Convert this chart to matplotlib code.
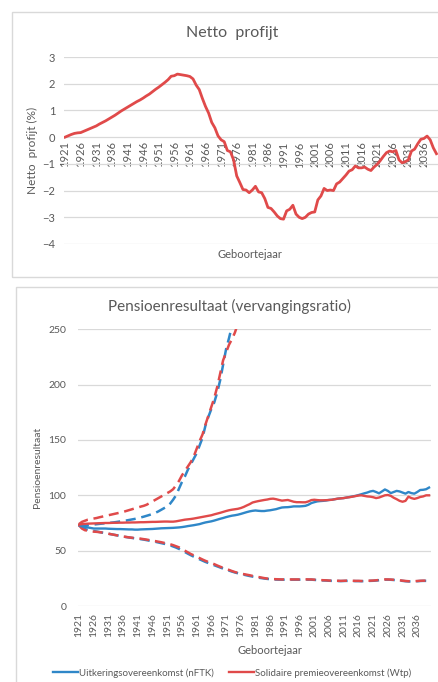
import numpy as np
import matplotlib.pyplot as plt
from matplotlib.patches import Rectangle

plt.rcParams['font.family'] = ['Lato', 'DejaVu Sans']

W, H = 438, 682
RED = '#e04a4a'
BLUE = '#2f87c8'
GRID = '#d9d9d9'
TXT = '#595959'

years = list(range(1921, 2041))
tick_years = list(range(1921, 2037, 5))

# netto profijt (%) per geboortejaar
netto_profijt = [
    0.00, 0.05, 0.10, 0.14, 0.16, 0.17, 0.22, 0.27, 0.32, 0.37,
    0.42, 0.49, 0.55, 0.61, 0.68, 0.75, 0.82, 0.90, 0.98, 1.05,
    1.12, 1.19, 1.26, 1.33, 1.39, 1.46, 1.54, 1.61, 1.70, 1.79,
    1.87, 1.96, 2.05, 2.15, 2.28, 2.30, 2.36, 2.34, 2.32, 2.30,
    2.27, 2.18, 1.95, 1.78, 1.45, 1.15, 0.90, 0.55, 0.35, 0.05,
    -0.10, -0.17, -0.50, -0.55, -0.85, -1.45, -1.70, -1.96, -1.98, -2.08,
    -1.98, -1.84, -2.05, -2.08, -2.30, -2.63, -2.67, -2.80, -2.95, -3.05,
    -3.07, -2.76, -2.70, -2.55, -2.88, -3.00, -3.05, -3.00, -2.88, -2.82,
    -2.80, -2.35, -2.20, -1.92, -2.00, -1.98, -2.00, -1.75, -1.68, -1.55,
    -1.42, -1.27, -1.22, -1.08, -1.15, -1.15, -1.12, -1.20, -1.25, -1.12,
    -1.02, -0.88, -0.72, -0.58, -0.52, -0.55, -0.50, -0.85, -0.96, -0.92,
    -0.85, -0.52, -0.45, -0.25, -0.08, -0.05, 0.04, -0.10, -0.40, -0.62,
]

# pensioenresultaat, mediaan (doorgetrokken)
nftk_mid = [
    73, 72, 71.5, 71, 70.5, 70, 70, 70, 70, 70,
    69.8, 69.7, 69.6, 69.5, 69.5, 69.4, 69.3, 69.2, 69.2, 69,
    69, 69.2, 69.3, 69.4, 69.5, 69.6, 69.8, 70, 70.2, 70.3,
    70.4, 70.5, 70.6, 70.8, 71, 71.3, 71.7, 72.2, 72.6, 73,
    73.5, 74, 74.8, 75.5, 76, 76.5, 77.2, 78, 78.8, 79.5,
    80.3, 81, 81.6, 82, 82.5, 83.2, 84, 84.8, 85.5, 86,
    86.3, 86, 85.8, 85.8, 86.2, 86.5, 87, 87.5, 88.3, 89,
    89.2, 89.3, 89.6, 90, 90, 90, 90.2, 90.5, 91.5, 93,
    93.8, 94.5, 94.8, 95, 95.3, 95.8, 96, 96.5, 97, 97.3,
    97.5, 98, 98.5, 99, 99.5, 100.2, 101, 101.8, 102.5, 103.5,
    104, 103, 101.8, 103.5, 105.3, 104, 102, 103, 104, 103.5,
    102.5, 101.5, 103, 102, 101.5, 103, 104.8, 105, 105.5, 107,
]
wtp_mid = [
    73.5, 74, 74.2, 74.4, 74.5, 74.6, 74.7, 74.8, 74.9, 75,
    75, 75.1, 75.2, 75.2, 75.3, 75.3, 75.4, 75.4, 75.5, 75.5,
    75.6, 75.7, 75.7, 75.8, 75.9, 76, 76, 76.1, 76.2, 76.3,
    76.3, 76.2, 76.2, 76.5, 77, 77.5, 78, 78.3, 78.6, 79,
    79.5, 80, 80.5, 81, 81.5, 82, 82.8, 83.5, 84.2, 85,
    85.8, 86.5, 87, 87.4, 87.8, 88.5, 89.5, 90.8, 92, 93.5,
    94.2, 94.8, 95.3, 95.8, 96.2, 96.8, 97, 96.5, 95.8, 95.2,
    95.5, 95.8, 95, 94.2, 93.8, 93.8, 93.7, 93.7, 94.5, 95.7,
    96, 95.7, 95.5, 95.5, 95.6, 95.8, 96, 96.5, 97, 97.2,
    97.5, 98, 98.3, 98.8, 99.3, 99.8, 100, 99.5, 99, 98.8,
    98.3, 97.5, 98, 99, 100, 100.3, 99.5, 97.8, 96.5, 95,
    94.2, 95, 98.8, 97.5, 96.8, 97.5, 98.5, 99, 100, 100,
]

# bovengrens (gestippeld), loopt vanaf ~1974 buiten beeld
nftk_high = [
    73, 72.5, 72.5, 73, 73.3, 73.6, 73.9, 74.2, 74.5, 74.8,
    75, 75.3, 75.6, 76, 76.4, 76.8, 77.2, 77.7, 78.2, 78.7,
    79.3, 80, 80.7, 81.5, 82.3, 83.2, 84.2, 85.5, 87, 88.5,
    90, 92.5, 96, 100, 106, 112, 117, 123, 128, 133,
    138, 145, 152, 163, 171, 178, 184, 193, 204, 218,
    232, 242, 253, 265,
]
wtp_high = [
    74, 76, 77, 78, 78.5, 79, 79.5, 80.2, 80.8, 81.5,
    82, 82.6, 83.2, 83.8, 84.4, 85, 85.8, 86.6, 87.4, 88.2,
    89, 89.8, 90.5, 91.5, 93, 94.5, 96, 97.5, 99, 100.5,
    102, 103.5, 105.5, 109, 113, 118, 122, 126, 130, 135,
    142, 149, 155, 164, 172, 180, 188, 198, 210, 222,
    229, 236, 241, 247, 255, 265,
]

# ondergrens (gestippeld)
nftk_low = [
    73, 71, 69.5, 68.8, 68.2, 67.7, 67.3, 66.8, 66.3, 65.8,
    65.3, 64.8, 64.3, 63.8, 63.3, 62.8, 62.3, 61.9, 61.5, 61.1,
    60.8, 60.4, 60, 59.5, 59, 58.5, 58, 57.4, 56.8, 56.2,
    55.6, 54.8, 53.8, 52.8, 51.6, 50.2, 48.8, 47.3, 45.9, 44.6,
    43.4, 42.2, 41, 39.8, 38.8, 37.8, 36.8, 35.8, 34.8, 33.8,
    32.9, 32, 31.1, 30.3, 29.6, 28.9, 28.3, 27.7, 27.1, 26.6,
    26.1, 25.6, 25.2, 24.8, 24.5, 24.2, 24, 23.9, 23.8, 23.8,
    23.8, 23.8, 23.8, 23.8, 23.8, 23.8, 23.9, 23.9, 23.8, 23.8,
    23.6, 23.4, 23.2, 23.1, 23, 22.8, 22.7, 22.6, 22.6, 22.5,
    22.6, 22.7, 22.7, 22.6, 22.5, 22.5, 22.4, 22.5, 22.6, 22.7,
    22.8, 23, 23.3, 23.6, 23.8, 23.8, 23.7, 23.5, 23.3, 23,
    22.7, 22.4, 22.2, 22.1, 22.2, 22.4, 22.6, 22.7, 22.7, 22.6,
]
wtp_low = [
    73, 70, 68.5, 68, 67.5, 67.2, 67, 66.7, 66.3, 65.8,
    65.3, 64.8, 64.3, 63.8, 63.3, 62.8, 62.4, 62, 61.7, 61.4,
    61.1, 60.8, 60.4, 60, 59.5, 59, 58.6, 58.1, 57.6, 57,
    56.5, 55.8, 55, 54, 53, 51.5, 50, 48.5, 47, 45.8,
    44.6, 43.3, 42, 40.8, 39.8, 38.8, 37.8, 36.6, 35.5, 34.5,
    33.5, 32.6, 31.6, 30.7, 30, 29.3, 28.8, 28.3, 27.8, 27.2,
    26.7, 26.2, 25.7, 25.2, 24.8, 24.5, 24.3, 24.2, 24.1, 24,
    24, 24, 24, 24, 24, 24, 24.1, 24.1, 24, 24,
    23.8, 23.6, 23.4, 23.3, 23.2, 23, 22.9, 22.8, 22.8, 22.7,
    22.8, 22.9, 22.9, 22.8, 22.7, 22.7, 22.6, 22.7, 22.8, 22.9,
    23, 23.2, 23.5, 23.8, 24, 24, 23.9, 23.7, 23.5, 23.2,
    22.9, 22.6, 22.4, 22.3, 22.4, 22.6, 22.8, 22.9, 22.9, 22.8,
]


def pad(values):
    # rest van de reeks valt buiten de as
    out = np.full(len(years), np.nan)
    out[:len(values)] = values
    return out


def px_box(x0, y0, x1, y1):
    # pixelcoordinaten (van boven) naar figuurfracties
    return [x0 / W, 1 - y1 / H, (x1 - x0) / W, (y1 - y0) / H]


def style_axes(ax):
    for s in ax.spines.values():
        s.set_visible(False)
    ax.grid(axis='y', color=GRID, linewidth=0.9)
    ax.set_axisbelow(True)
    ax.tick_params(length=0, colors=TXT, labelsize=7.5)


def year_ticks(ax):
    ax.set_xticks(tick_years)
    ax.set_xticklabels([str(y) for y in tick_years], rotation=90,
                       va='top', ha='center')


fig = plt.figure(figsize=(W / 100, H / 100), dpi=100)

# kaders om de twee grafieken
fig.add_artist(Rectangle((12 / W, 1 - 277 / H), 1, (277 - 12) / H,
                         transform=fig.transFigure, fill=False,
                         edgecolor=GRID, linewidth=1))
fig.add_artist(Rectangle((16 / W, -0.1), 1, 0.1 + (H - 287) / H,
                         transform=fig.transFigure, fill=False,
                         edgecolor=GRID, linewidth=1))

# --- Netto profijt ---
ax1 = fig.add_axes(px_box(63.5, 57, 438, 244))
style_axes(ax1)
ax1.plot(years, netto_profijt, color=RED, linewidth=2.0,
         solid_joinstyle='round')
ax1.set_xlim(1920.5, 2040.5)
ax1.set_ylim(-4, 3)
ax1.set_yticks(range(-4, 4))
ax1.spines['bottom'].set_position(('data', 0))
year_ticks(ax1)
ax1.tick_params(axis='x', pad=3, length=0, colors=TXT, labelsize=8)
ax1.tick_params(axis='y', pad=6, labelsize=8)
ax1.set_ylabel('Netto  profijt (%)', color=TXT, fontsize=8.5, labelpad=3)
fig.text(232 / W, 1 - 33 / H, 'Netto  profijt', ha='center', va='center',
         color=TXT, fontsize=11.5)
fig.text(250 / W, 1 - 255 / H, 'Geboortejaar', ha='center', va='center',
         color=TXT, fontsize=8)

# --- Pensioenresultaat ---
ax2 = fig.add_axes(px_box(77.5, 329.3, 430.5, 606))
style_axes(ax2)
dash = (0, (4, 2.3))
ax2.plot(years, pad(nftk_high), color=BLUE, linewidth=1.8, linestyle=dash)
ax2.plot(years, nftk_low, color=BLUE, linewidth=1.8, linestyle=dash)
ax2.plot(years, pad(wtp_high), color=RED, linewidth=1.8, linestyle=dash)
ax2.plot(years, wtp_low, color=RED, linewidth=1.8, linestyle=dash)
l_nftk, = ax2.plot(years, nftk_mid, color=BLUE, linewidth=1.7,
                   label='Uitkeringsovereenkomst (nFTK)')
l_wtp, = ax2.plot(years, wtp_mid, color=RED, linewidth=1.7,
                  label='Solidaire premieovereenkomst (Wtp)')
ax2.set_xlim(1920.5, 2040.5)
ax2.set_ylim(0, 250)
ax2.set_yticks(range(0, 251, 50))
year_ticks(ax2)
ax2.tick_params(axis='x', pad=5)
ax2.tick_params(axis='y', pad=8)
ax2.set_ylabel('Pensioenresultaat', color=TXT, fontsize=7.5, labelpad=5)
fig.text(230 / W, 1 - 306.5 / H, 'Pensioenresultaat (vervangingsratio)',
         ha='center', va='center', color=TXT, fontsize=11)
fig.text(270 / W, 1 - 650 / H, 'Geboortejaar', ha='center', va='center',
         color=TXT, fontsize=8)
fig.legend(handles=[l_nftk, l_wtp], loc='center',
           bbox_to_anchor=(232 / W, 1 - 673 / H), ncol=2, frameon=False,
           fontsize=7, handlelength=2.6, handletextpad=0.1,
           columnspacing=1.5, labelcolor=TXT)

fig.savefig('out.png', dpi=100)
